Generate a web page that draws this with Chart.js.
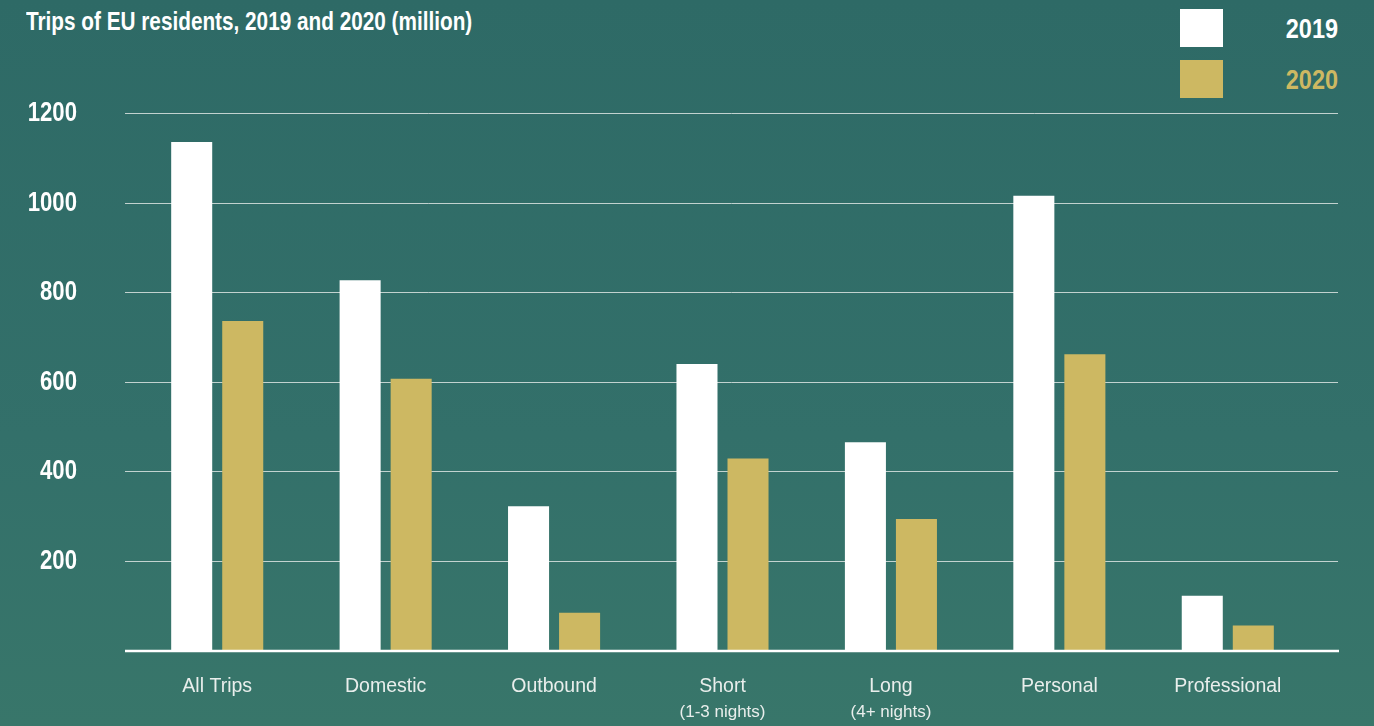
<!DOCTYPE html>
<html>
<head>
<meta charset="utf-8">
<title>Trips of EU residents</title>
<script src="https://cdn.jsdelivr.net/npm/chart.js@4.4.1/dist/chart.umd.min.js"></script>
<style>
  html, body { margin: 0; padding: 0; }
  body {
    width: 1374px; height: 726px; overflow: hidden; position: relative;
    background: linear-gradient(#2e6a66, #33706a 60%, #38766a);
    font-family: "Liberation Sans", Arial, sans-serif;
  }
  #title {
    position: absolute; left: 26px; top: 7px;
    color: #fff; font-weight: bold; font-size: 25px; white-space: nowrap;
    transform: scaleX(0.83); transform-origin: left top;
  }
  .legend-item { position: absolute; left: 1180px; width: 158px; height: 38px; }
  .legend-item .box { position: absolute; left: 0; top: 0; width: 43px; height: 38px; }
  .legend-item .lbl {
    position: absolute; right: 0; top: 0; line-height: 40px;
    font-weight: bold; font-size: 27px;
    transform: scaleX(0.87); transform-origin: right top;
  }
  #wrap { position: absolute; left: 0; top: 0; width: 1374px; height: 726px; }
</style>
</head>
<body>
<div id="title">Trips of EU residents, 2019 and 2020 (million)</div>
<div id="legend"></div>
<div id="wrap"><canvas id="myChart"></canvas></div>
<script>
// data
const categories = ["All Trips", "Domestic", "Outbound", "Short", "Long", "Personal", "Professional"];
const subLabels = ["", "", "", "(1-3 nights)", "(4+ nights)", "", ""];
const trips2019 = [1135, 826, 321, 639, 464, 1015, 121];
const trips2020 = [735, 606, 83, 428, 293, 661, 55];
const yTicks = [0, 200, 400, 600, 800, 1000, 1200];
const seriesNames = ["2019", "2020"];
const seriesColors = ["#ffffff", "#cdb862"];

const regular = '"Liberation Sans", Arial, sans-serif';

// legend (html)
let legend = document.getElementById("legend");
seriesNames.forEach((name, i) => {
    let item = document.createElement("div");
    item.className = "legend-item";
    item.style.top = (9 + i * 51) + "px";
    item.innerHTML = '<div class="box" style="background:' + seriesColors[i] + '"></div>' +
        '<div class="lbl" style="color:' + seriesColors[i] + '">' + name + '</div>';
    legend.appendChild(item);
});

// gridlines run a bit wider than the bar area
const gridLines = {
    id: "gridLines",
    beforeDatasetsDraw(chart) {
        const y = chart.scales.y;
        const c = chart.ctx;
        c.save();
        c.strokeStyle = "rgba(220, 228, 226, 0.85)";
        c.lineWidth = 1;
        yTicks.forEach(v => {
            if (v === 0) return;
            const py = Math.round(y.getPixelForValue(v)) + 0.5;
            c.beginPath();
            c.moveTo(125, py);
            c.lineTo(1338, py);
            c.stroke();
        });
        c.restore();
    },
    afterDatasetsDraw(chart) {
        const y = chart.scales.y;
        const c = chart.ctx;
        const py = y.getPixelForValue(0) + 1;
        c.save();
        c.strokeStyle = "#ffffff";
        c.lineWidth = 2.5;
        c.beginPath();
        c.moveTo(125, py);
        c.lineTo(1339, py);
        c.stroke();

        // y labels, condensed bold (no narrow font installed)
        c.font = "bold 27px " + regular;
        c.fillStyle = "#ffffff";
        c.textAlign = "right";
        c.textBaseline = "middle";
        yTicks.forEach(v => {
            if (v === 0) return;
            c.save();
            c.translate(77, y.getPixelForValue(v) + 1);
            c.scale(0.82, 1);
            c.fillText(String(v), 0, 0);
            c.restore();
        });
        c.restore();
    }
};

// second line under some category labels
const subLabelPlugin = {
    id: "subLabels",
    afterDraw(chart) {
        const x = chart.scales.x;
        const c = chart.ctx;
        c.save();
        c.font = "17px " + regular;
        c.fillStyle = "#e9eeec";
        c.textAlign = "center";
        c.textBaseline = "middle";
        subLabels.forEach((s, i) => {
            if (s) c.fillText(s, x.getPixelForTick(i), 712);
        });
        c.restore();
    }
};

var ctx = document.getElementById("myChart").getContext("2d");
var myChart = new Chart(ctx, {
    type: "bar",
    data: {
        labels: categories,
        datasets: seriesNames.map((name, i) => ({
            label: name,
            data: i === 0 ? trips2019 : trips2020,
            backgroundColor: seriesColors[i],
            borderWidth: 0,
            categoryPercentage: 0.606,
            barPercentage: 0.804,
        })),
    },
    options: {
        responsive: true,
        maintainAspectRatio: false,
        animation: false,
        layout: { padding: { left: 0, right: 62, top: 113, bottom: 0 } },
        plugins: {
            legend: { display: false },
            tooltip: { enabled: false },
        },
        scales: {
            x: {
                grid: { display: false, drawTicks: false },
                border: { display: false },
                ticks: {
                    color: "#e9eeec",
                    font: { family: regular, size: 19.5 },
                    padding: 25,
                    maxRotation: 0,
                },
                afterFit: s => { s.height = 76; },
            },
            y: {
                min: 0,
                max: 1200,
                grid: { display: false, drawTicks: false },
                border: { display: false },
                ticks: { display: false, stepSize: 200 },
                afterFit: s => { s.width = 133; },
            },
        },
    },
    plugins: [gridLines, subLabelPlugin],
});
</script>
</body>
</html>
